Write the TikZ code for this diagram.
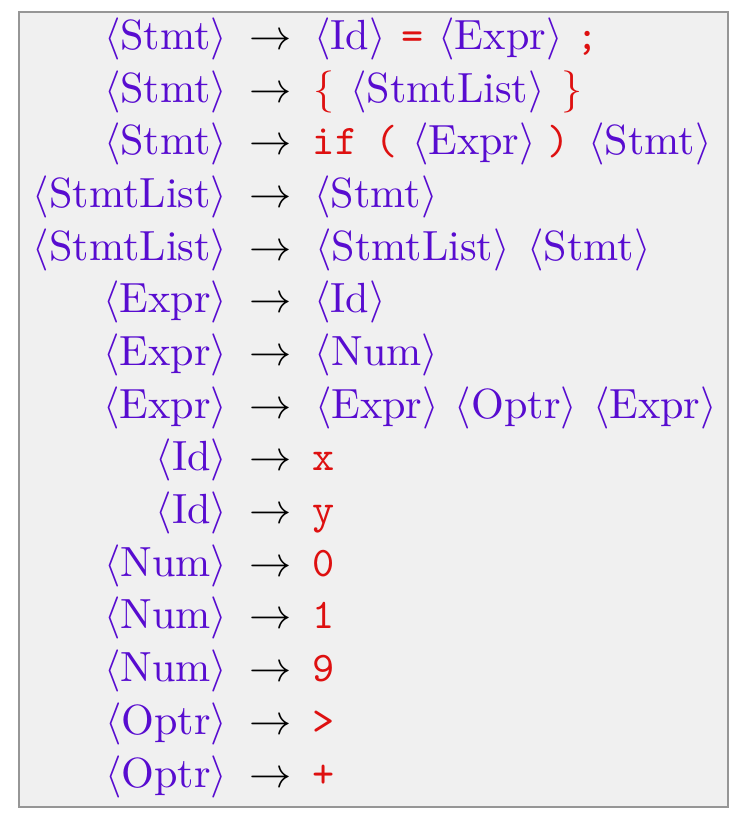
\documentclass[tikz,border=0pt]{standalone}
\definecolor{ntc}{RGB}{88,12,208}
\definecolor{tc}{RGB}{222,16,16}
\definecolor{boxfill}{RGB}{240,240,240}
\definecolor{boxline}{RGB}{150,150,150}
\newcommand{\nt}[1]{\textcolor{ntc}{$\langle$#1$\rangle$}}
\newcommand{\tm}[1]{\textcolor{tc}{\texttt{#1}}}
\newcommand{\tmm}[1]{\textcolor{tc}{$#1$}}
\begin{document}
\begin{tikzpicture}[x=0.237pt,y=-0.237pt,
  lhs/.style={anchor=base east, inner sep=0pt},
  arr/.style={anchor=base, inner sep=0pt},
  tk/.style={anchor=base, inner sep=0pt}]
\path[use as bounding box] (0,0) rectangle (754,818);
\draw[boxline, line width=0.5pt, fill=boxfill] (19,12) rectangle (728,807);
\foreach \l [count=\i from 0] in {Stmt,Stmt,Stmt,StmtList,StmtList,Expr,Expr,Expr,Id,Id,Num,Num,Num,Optr,Optr}{
  \node[lhs] (l\i) at (228,{49.5+52.68*\i}) {\nt{\l}};
  \node[arr] (a\i) at (270.5,{49.5+52.68*\i}) {$\rightarrow$};
}
% row 0
\node[tk] (r0a) at (350,{49.5+52.68*0}) {\nt{Id}};
\node[tk] (r0b) at (412.5,{49.5+52.68*0}) {\tm{=}};
\node[tk] (r0c) at (500.5,{49.5+52.68*0}) {\nt{Expr}};
\node[tk] (r0d) at (588,{49.5+52.68*0}) {\tm{;}};
% row 1
\node[tk] (r1a) at (324.5,{49.5+52.68*1}) {\tmm{\{}};
\node[tk] (r1b) at (447.5,{49.5+52.68*1}) {\nt{StmtList}};
\node[tk] (r1c) at (572.5,{49.5+52.68*1}) {\tmm{\}}};
% row 2
\node[tk] (r2a) at (335,{49.5+52.68*2}) {\tm{if}};
\node[tk] (r2b) at (386.5,{49.5+52.68*2}) {\tm{(}};
\node[tk] (r2c) at (474,{49.5+52.68*2}) {\nt{Expr}};
\node[tk] (r2d) at (558.5,{49.5+52.68*2}) {\tm{)}};
\node[tk] (r2e) at (650,{49.5+52.68*2}) {\nt{Stmt}};
% row 3
\node[tk] (r3a) at (376,{49.5+52.68*3}) {\nt{Stmt}};
% row 4
\node[tk] (r4a) at (412.5,{49.5+52.68*4}) {\nt{StmtList}};
\node[tk] (r4b) at (589,{49.5+52.68*4}) {\nt{Stmt}};
% row 5
\node[tk] (r5a) at (350,{49.5+52.68*5}) {\nt{Id}};
% row 6
\node[tk] (r6a) at (376.5,{49.5+52.68*6}) {\nt{Num}};
% row 7
\node[tk] (r7a) at (377,{49.5+52.68*7}) {\nt{Expr}};
\node[tk] (r7b) at (516,{49.5+52.68*7}) {\nt{Optr}};
\node[tk] (r7c) at (655,{49.5+52.68*7}) {\nt{Expr}};
% rows 8-14
\node[tk] (r8a) at (324,{49.5+52.68*8}) {\tm{x}};
\node[tk] (r9a) at (324,{49.5+52.68*9}) {\tm{y}};
\node[tk] (r10a) at (324,{49.5+52.68*10}) {\tm{0}};
\node[tk] (r11a) at (324,{49.5+52.68*11}) {\tm{1}};
\node[tk] (r12a) at (324,{49.5+52.68*12}) {\tm{9}};
\node[tk] (r13a) at (324,{49.5+52.68*13}) {\tm{>}};
\node[tk] (r14a) at (324,{49.5+52.68*14}) {\tm{+}};
\end{tikzpicture}
\end{document}
